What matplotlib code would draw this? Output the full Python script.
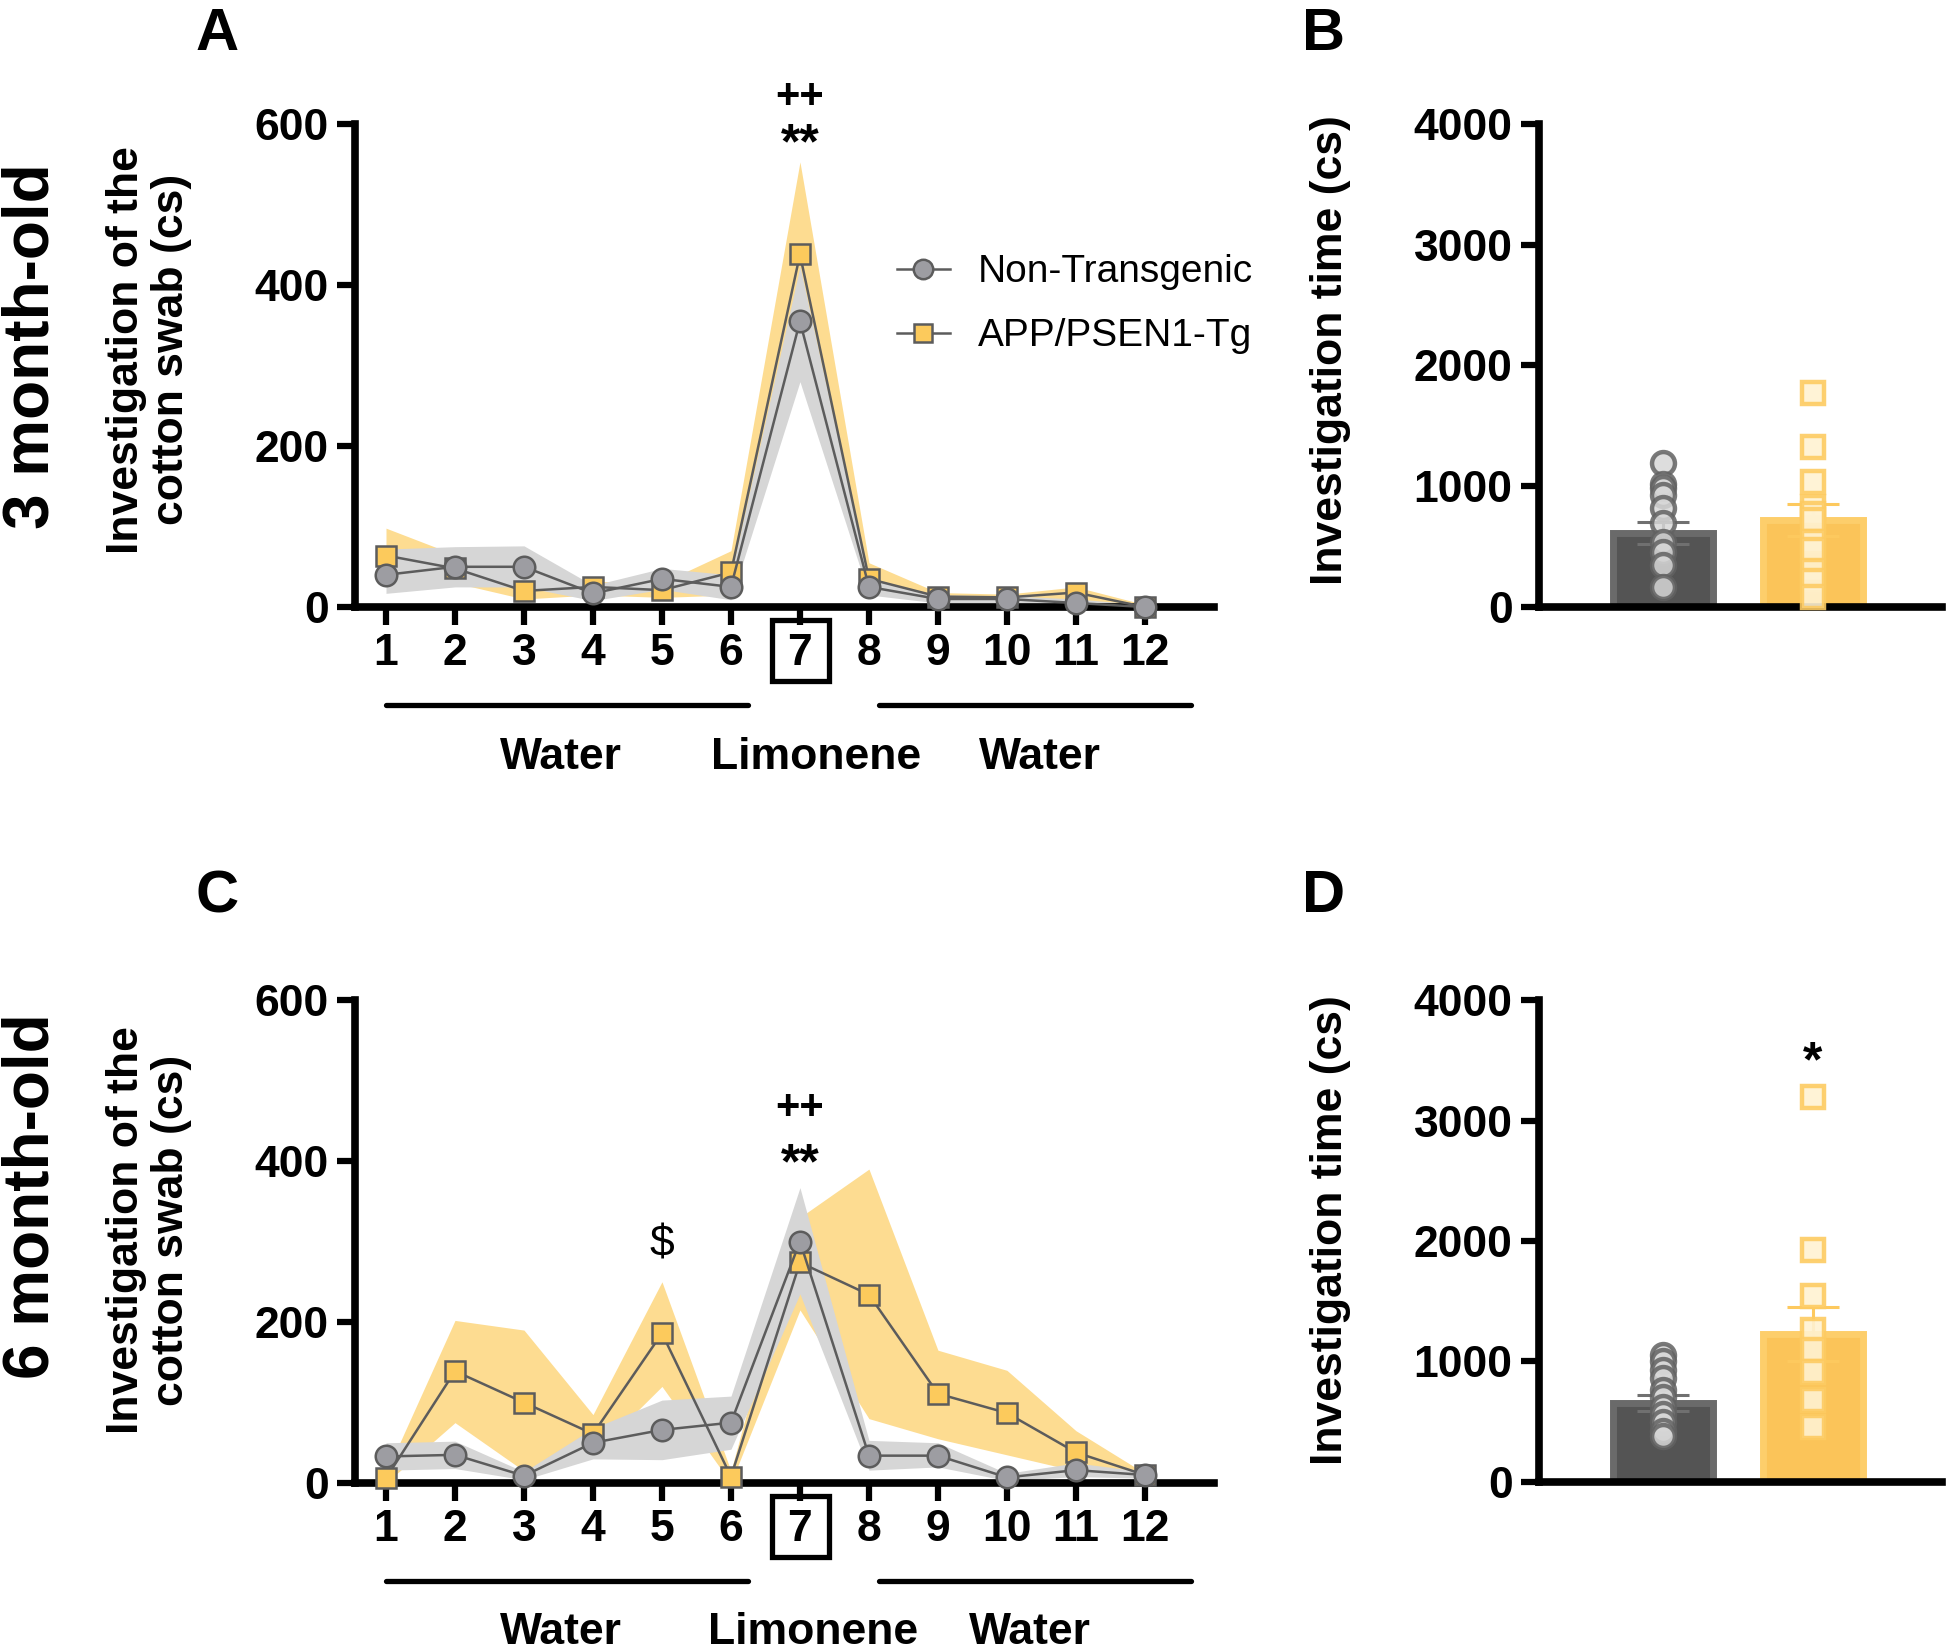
import matplotlib
matplotlib.use("Agg")
import matplotlib.pyplot as plt
import matplotlib.transforms as mtrans
from matplotlib.lines import Line2D
from matplotlib.patches import Rectangle

plt.rcParams['font.family'] = ['Liberation Sans', 'DejaVu Sans']

trials = list(range(1, 13))
trial_labels = [str(t) for t in trials]
groups = ['Non-Transgenic', 'APP/PSEN1-Tg']

# investigation of the cotton swab (cs) per trial, 3 month-old: mean and band edges
nt3_mean = [40, 50, 50, 17, 35, 25, 355, 25, 10, 10, 5, 0]
nt3_lo = [17, 25, 25, 8, 22, 9, 280, 15, 5, 5, 2, 0]
nt3_hi = [72, 75, 76, 27, 48, 40, 423, 35, 15, 14, 10, 3]
tg3_mean = [64, 48, 20, 25, 21, 43, 438, 35, 13, 12, 18, 0]
tg3_lo = [30, 30, 10, 15, 12, 15, 323, 20, 8, 8, 10, 0]
tg3_hi = [98, 65, 30, 32, 30, 70, 553, 55, 18, 16, 25, 3]

# 6 month-old
nt6_mean = [33, 35, 9, 50, 66, 75, 300, 34, 34, 7, 16, 10]
nt6_lo = [16, 18, 4, 30, 29, 42, 235, 16, 20, 3, 8, 6]
nt6_hi = [50, 52, 14, 68, 103, 108, 367, 53, 50, 12, 25, 14]
tg6_mean = [6, 139, 100, 61, 186, 8, 274, 234, 111, 87, 38, 10]
tg6_lo = [0, 75, 15, 35, 120, 0, 215, 80, 55, 35, 15, 5]
tg6_hi = [12, 202, 190, 85, 250, 15, 330, 390, 165, 140, 65, 12]

# total investigation time (cs): bar mean, sem and individual animals
bar3_mean = [610, 720]
bar3_sem = [93, 135]
nt3_pts = [1190, 1020, 980, 925, 815, 690, 540, 455, 345, 165]
tg3_pts = [1775, 1325, 1035, 830, 770, 720, 540, 470, 300, 210, 80]
bar6_mean = [655, 1225]
bar6_sem = [65, 224]
nt6_pts = [1050, 1000, 930, 860, 760, 700, 620, 560, 500, 420, 380]
tg6_pts = [3195, 1925, 1545, 1260, 1095, 915, 680, 455]

line_c = '#5c5c5c'
gray = '#9d9da2'
orange = '#FCCA5C'
band_gr = '#D6D6D6'
band_or = '#FDDC91'


def style_axes(ax):
    for s in ['top', 'right']:
        ax.spines[s].set_visible(False)
    for s in ['left', 'bottom']:
        ax.spines[s].set_linewidth(5.5)
    ax.tick_params(width=4.5, length=13, labelsize=32, pad=6)
    for lab in ax.get_xticklabels() + ax.get_yticklabels():
        lab.set_fontweight('bold')


def line_panel(ax, nt_m, nt_lo, nt_hi, tg_m, tg_lo, tg_hi):
    ax.fill_between(trials, tg_lo, tg_hi, color=band_or, lw=0, zorder=1)
    ax.fill_between(trials, nt_lo, nt_hi, color=band_gr, lw=0, zorder=2)
    ax.plot(trials, tg_m, '-s', color=line_c, lw=1.8, ms=14, mfc=orange,
            mec=line_c, mew=1.8, zorder=3, clip_on=False)
    ax.plot(trials, nt_m, '-o', color=line_c, lw=1.8, ms=15.5, mfc=gray,
            mec=line_c, mew=1.8, zorder=4, clip_on=False)
    ax.set_xlim(0.55, 13.0)
    ax.set_ylim(0, 600)
    ax.set_yticks([0, 200, 400, 600])
    ax.set_xticks(trials)
    ax.set_xticklabels(trial_labels)
    style_axes(ax)
    tr = mtrans.blended_transform_factory(ax.transData, ax.transAxes)
    # box around the limonene trial
    ax.add_patch(Rectangle((6.59, -0.153), 0.83, 0.126, transform=tr, fill=False,
                           lw=3.8, ec='black', clip_on=False))
    ax.plot([1, 6.25], [-0.202, -0.202], transform=tr, color='k', lw=3.8,
            solid_capstyle='round', clip_on=False)
    ax.plot([8.14, 12.67], [-0.202, -0.202], transform=tr, color='k', lw=3.8,
            solid_capstyle='round', clip_on=False)
    return tr


def bar_panel(ax, means, sems, nt_pts, tg_pts):
    ax.bar([0], [means[0]], width=0.667, color='#545454', edgecolor='#6a6a6a', lw=5, zorder=1)
    ax.bar([1], [means[1]], width=0.667, color='#FBC459', edgecolor='#FDCE6B', lw=5, zorder=1)
    ax.errorbar([0], [means[0]], yerr=[sems[0]], color='#707070', capsize=18.7,
                elinewidth=2.2, capthick=2.2, zorder=2)
    ax.errorbar([1], [means[1]], yerr=[sems[1]], color='#FDC95E', capsize=18.7,
                elinewidth=2.2, capthick=2.2, zorder=2)
    ax.plot([0] * len(nt_pts), nt_pts, 'o', ms=16.5, mfc='#d7d7d7', mec='#626262',
            mew=3.2, alpha=0.85, zorder=3, clip_on=False)
    ax.plot([1] * len(tg_pts), tg_pts, 's', ms=15.5, mfc='#FFF2D2', mec='#FDCB62',
            mew=3.2, alpha=0.9, zorder=3, clip_on=False)
    ax.set_xlim(-0.825, 1.86)
    ax.set_ylim(0, 4000)
    ax.set_yticks([0, 1000, 2000, 3000, 4000])
    ax.set_xticks([])
    style_axes(ax)


fig = plt.figure(figsize=(19.46, 16.5), dpi=100)

axA = fig.add_axes([0.1824, 0.6321, 0.4414, 0.2927])
axC = fig.add_axes([0.1824, 0.1012, 0.4414, 0.2927])
axB = fig.add_axes([0.7908, 0.6323, 0.2071, 0.2925])
axD = fig.add_axes([0.7908, 0.1020, 0.2071, 0.2918])

trA = line_panel(axA, nt3_mean, nt3_lo, nt3_hi, tg3_mean, tg3_lo, tg3_hi)
trC = line_panel(axC, nt6_mean, nt6_lo, nt6_hi, tg6_mean, tg6_lo, tg6_hi)

for ax, tr, xs, yb in [(axA, trA, [3.54, 7.24, 10.48], -0.336),
                       (axC, trC, [3.54, 7.19, 10.33], -0.333)]:
    for x, txt in zip(xs, ['Water', 'Limonene', 'Water']):
        ax.text(x, yb, txt, transform=tr, ha='center', va='baseline',
                fontsize=32, fontweight='bold')

# significance marks
axA.text(7, 620, '++', ha='center', va='baseline', fontsize=30, fontweight='bold', clip_on=False)
axA.text(7, 557, '**', ha='center', va='baseline', fontsize=36, fontweight='bold', clip_on=False)
axC.text(7, 452, '++', ha='center', va='baseline', fontsize=30, fontweight='bold', clip_on=False)
axC.text(7, 379, '**', ha='center', va='baseline', fontsize=36, fontweight='bold', clip_on=False)
axC.text(5, 282, '$', ha='center', va='baseline', fontsize=32, clip_on=False)

handles = [Line2D([], [], color=line_c, lw=1.8, marker='o', ms=14, mfc=gray, mec=line_c, mew=1.8),
           Line2D([], [], color=line_c, lw=1.8, marker='s', ms=13, mfc=orange, mec=line_c, mew=1.8)]
axA.legend(handles, groups, loc='upper left', bbox_to_anchor=(0.631, 0.73), frameon=False,
           fontsize=28, handlelength=1.36, handletextpad=0.72, labelspacing=0.72,
           borderpad=0, borderaxespad=0)

bar_panel(axB, bar3_mean, bar3_sem, nt3_pts, tg3_pts)
bar_panel(axD, bar6_mean, bar6_sem, nt6_pts, tg6_pts)
axD.text(1, 3367, '*', ha='center', va='baseline', fontsize=36, fontweight='bold')

# axis titles
for y in [0.788, 0.2545]:
    fig.text(0.0766, y, 'Investigation of the\ncotton swab (cs)', rotation=90, ha='center',
             va='center', fontsize=32, fontweight='bold', linespacing=1.12)
    fig.text(0.6835, y, 'Investigation time (cs)', rotation=90, ha='center',
             va='center', fontsize=32, fontweight='bold')

fig.text(0.016, 0.790, '3 month-old', rotation=90, ha='center', va='center',
         fontsize=46, fontweight='bold')
fig.text(0.016, 0.275, '6 month-old', rotation=90, ha='center', va='center',
         fontsize=46, fontweight='bold')

for x, y, letter in [(0.1115, 0.970, 'A'), (0.680, 0.970, 'B'),
                     (0.1115, 0.447, 'C'), (0.680, 0.447, 'D')]:
    fig.text(x, y, letter, ha='center', va='baseline', fontsize=43, fontweight='bold')

fig.savefig('out.png', dpi=100)
